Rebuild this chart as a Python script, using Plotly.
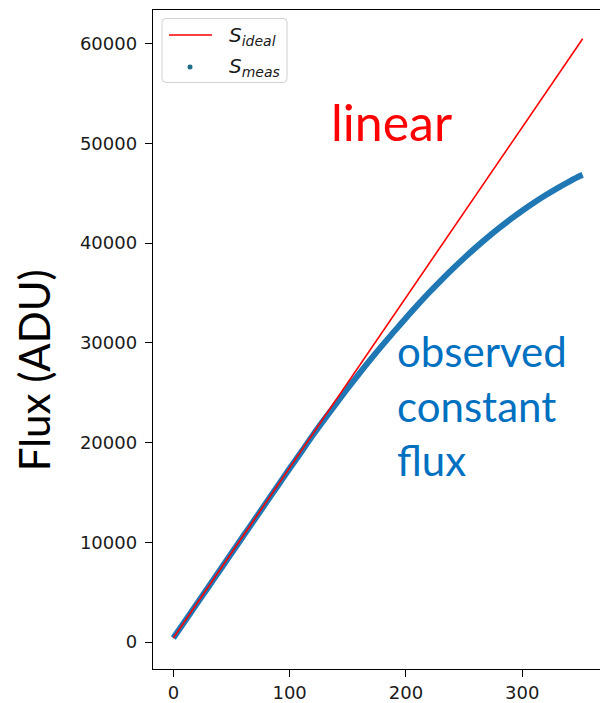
import plotly.graph_objects as go

# ---- data ----
ideal_x = [0, 352]
ideal_y = [400, 60500]

meas_x = [0, 10, 20, 30, 40, 50, 60, 70, 80, 90, 100, 110, 120, 130, 140, 150,
          160, 170, 180, 190, 200, 210, 220, 230, 240, 250, 260, 270, 280, 290,
          300, 310, 320, 330, 340, 350, 352]
meas_y = [400, 2100, 3800, 5500, 7200, 8900, 10600, 12300, 14000, 15700, 17400,
          19050, 20750, 22350, 23900, 25450, 26950, 28400, 29800, 31150, 32500,
          33800, 35050, 36250, 37400, 38500, 39550, 40550, 41500, 42400, 43250,
          44050, 44800, 45500, 46150, 46750, 46850]

x_ticks = [0, 100, 200, 300]
y_ticks = [0, 10000, 20000, 30000, 40000, 50000, 60000]
y_tick_labels = ["0", "10000", "20000", "30000", "40000", "50000", "60000"]

# ---- layout geometry (pixels) ----
W, H = 600, 703
L, R, T, B = 153, 600, 9.5, 669


def px(xp):
    return (xp - L) / (R - L)


def py(yp):
    return (B - yp) / (B - T)


fig = go.Figure()
fig.add_trace(go.Scatter(x=meas_x, y=meas_y, mode="lines",
                         line=dict(color="#1f77b4", width=6, shape="spline", smoothing=1.0),
                         showlegend=False))
fig.add_trace(go.Scatter(x=ideal_x, y=ideal_y, mode="lines",
                         line=dict(color="#ff0000", width=1.6), showlegend=False))

tickfont = dict(family="DejaVu Sans", size=18, color="#1a1a1a")
fig.update_xaxes(range=[-17.5, 366.9], tickvals=x_ticks, ticks="outside", ticklen=7,
                 tickwidth=1.4, tickcolor="black", showline=True, linecolor="black",
                 linewidth=1.4, mirror=True, showgrid=False, zeroline=False,
                 tickfont=tickfont)
fig.update_yaxes(range=[-2705, 63380], tickvals=y_ticks, ticktext=y_tick_labels,
                 ticks="outside", ticklen=7,
                 tickwidth=1.4, tickcolor="black", showline=True, linecolor="black",
                 linewidth=1.4, mirror=False, showgrid=False, zeroline=False,
                 tickfont=tickfont, ticklabelstandoff=4)

shapes = []
# legend box with rounded corners
bx0, bx1, by0, by1, r = 162, 287, 18, 82, 4
path = (f"M {px(bx0 + r)},{py(by0)} L {px(bx1 - r)},{py(by0)} "
        f"Q {px(bx1)},{py(by0)} {px(bx1)},{py(by0 + r)} "
        f"L {px(bx1)},{py(by1 - r)} Q {px(bx1)},{py(by1)} {px(bx1 - r)},{py(by1)} "
        f"L {px(bx0 + r)},{py(by1)} Q {px(bx0)},{py(by1)} {px(bx0)},{py(by1 - r)} "
        f"L {px(bx0)},{py(by0 + r)} Q {px(bx0)},{py(by0)} {px(bx0 + r)},{py(by0)} Z")
shapes.append(dict(type="path", xref="paper", yref="paper", path=path,
                   line=dict(color="#d0d0d0", width=1), fillcolor="rgba(255,255,255,0.8)"))
shapes.append(dict(type="line", xref="paper", yref="paper", x0=px(169), x1=px(212),
                   y0=py(34.5), y1=py(34.5), line=dict(color="#ff0000", width=1.6)))
shapes.append(dict(type="circle", xref="paper", yref="paper", x0=px(187.5), x1=px(192.5),
                   y0=py(64), y1=py(69), line=dict(color="#1f6f8b", width=0),
                   fillcolor="#1f6f8b"))
fig.update_layout(shapes=shapes)

ann = []
legfont = dict(family="DejaVu Sans", size=20, color="#1a1a1a")
ann.append(dict(xref="paper", yref="paper", x=px(227), y=py(36), xanchor="left",
                yanchor="middle", showarrow=False, font=legfont,
                text="<i>S</i><sub><i>ideal</i></sub>"))
ann.append(dict(xref="paper", yref="paper", x=px(227), y=py(67), xanchor="left",
                yanchor="middle", showarrow=False, font=legfont,
                text="<i>S</i><sub><i>meas</i></sub>"))
ann.append(dict(xref="paper", yref="paper", x=px(329), y=py(122), xanchor="left",
                yanchor="middle", showarrow=False,
                font=dict(family="Lato", size=50, color="#ff0000"), text="linear"))
ann.append(dict(xref="paper", yref="paper", x=px(395), y=py(405), xanchor="left",
                yanchor="middle", showarrow=False, align="left",
                font=dict(family="Lato", size=42, color="#0070c0"),
                text="observed<br>constant<br>flux"))
ann.append(dict(xref="paper", yref="paper", x=px(34), y=py(370), xanchor="center",
                yanchor="middle", showarrow=False, textangle=-90,
                font=dict(family="Lato", size=42, color="black"), text="Flux (ADU)"))
fig.update_layout(annotations=ann)

fig.update_layout(width=W, height=H, margin=dict(l=L, r=W - R, t=T, b=H - B),
                  paper_bgcolor="white", plot_bgcolor="white")

fig.write_html("out.html")
